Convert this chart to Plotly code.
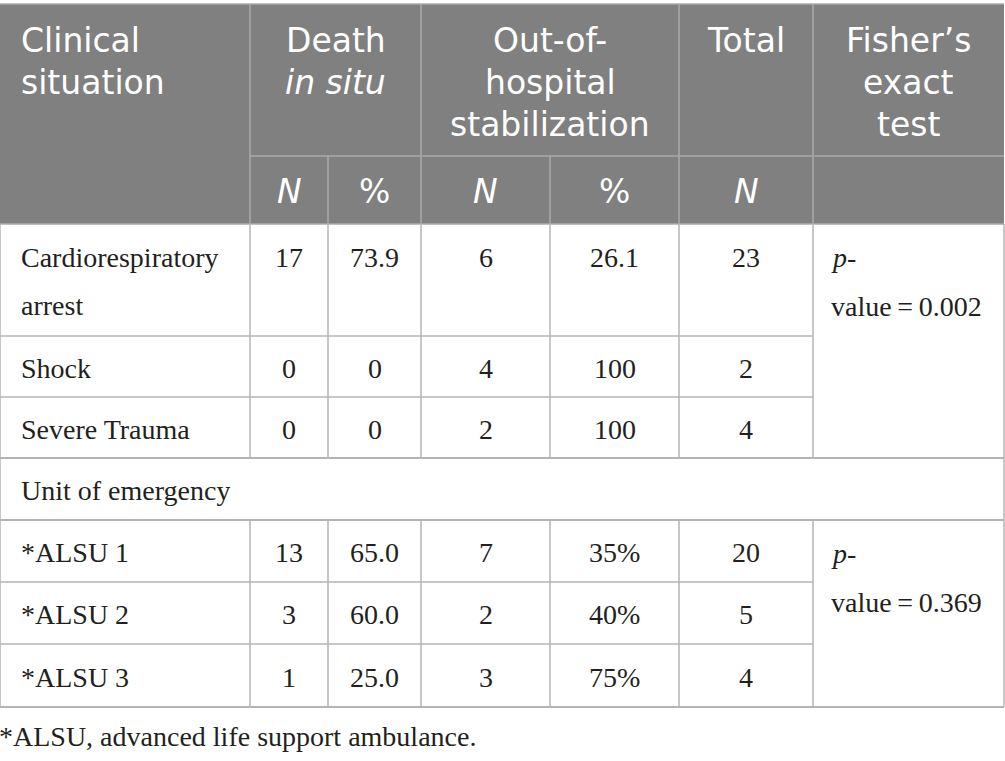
import plotly.graph_objects as go

# ---------------- data ----------------
situations = ["Cardiorespiratory arrest", "Shock", "Severe Trauma"]
units = ["*ALSU 1", "*ALSU 2", "*ALSU 3"]
section_label = "Unit of emergency"

death_n = ["17", "0", "0", "13", "3", "1"]
death_pct = ["73.9", "0", "0", "65.0", "60.0", "25.0"]
stab_n = ["6", "4", "2", "7", "2", "3"]
stab_pct = ["26.1", "100", "100", "35%", "40%", "75%"]
total_n = ["23", "2", "4", "20", "5", "4"]
p_values = ["0.002", "0.369"]

header_groups = [["Clinical", "situation"], ["Death", "<i>in situ</i>"],
                 ["Out-of-", "hospital", "stabilization"], ["Total"],
                 ["Fisher’s", "exact", "test"]]
sub_headers = ["<i>N</i>", "%", "<i>N</i>", "%", "<i>N</i>"]
footnote = "*ALSU, advanced life support ambulance."

# ---------------- layout ----------------
W, H = 1005, 761
col_edges = [0, 250, 328, 421, 550, 679, 813, 1004]
head_top, head_mid, head_bot = 4, 156, 224
row_edges = [224, 336, 397, 458, 520, 582, 644, 707]

HEAD_BG = "#7f807f"
HEAD_LINE = "#a9aaa9"
BODY_LINE = "#b4b4b4"
HFONT = "DejaVu Sans"
BFONT = "Liberation Serif"
HS = 33
BS = 28
PAD = 19

shapes = []
annos = []


def line(x0, y0, x1, y1, color, w=1.5):
    shapes.append(dict(type="line", x0=x0, y0=y0, x1=x1, y1=y1, xref="x", yref="y",
                       line=dict(color=color, width=w), layer="above"))


def text(x, y, s, font, size, color="#231f20", anchor="center", h=None, xshift=0):
    a = dict(x=x, y=y, xref="x", yref="y", text=s, showarrow=False,
             xanchor=anchor, yanchor="middle", valign="middle", xshift=xshift,
             font=dict(family=font, size=size, color=color))
    if h is not None:
        a["height"] = h
    annos.append(a)


# header background
shapes.append(dict(type="rect", x0=col_edges[0], x1=col_edges[-1], y0=head_top, y1=head_bot,
                   xref="x", yref="y", fillcolor=HEAD_BG, line=dict(width=0), layer="below"))

# header lines
line(col_edges[0], head_top, col_edges[-1], head_top, HEAD_LINE)
for xe in [col_edges[1], col_edges[3], col_edges[5], col_edges[6]]:
    line(xe, head_top, xe, head_bot, HEAD_LINE)
line(col_edges[1], head_mid, col_edges[-1], head_mid, HEAD_LINE)
for xe in [col_edges[2], col_edges[4]]:
    line(xe, head_mid, xe, head_bot, HEAD_LINE)
line(col_edges[0], head_bot, col_edges[-1], head_bot, HEAD_LINE)

# header texts
group_spans = [(0, 1), (1, 3), (3, 5), (5, 6), (6, 7)]
for gi, (lines_, (a, b)) in enumerate(zip(header_groups, group_spans)):
    for li, s in enumerate(lines_):
        y = head_top + 36 + 42 * li
        if gi == 0:
            text(col_edges[a] + PAD, y, s, HFONT, HS, "white", "left", h=40)
        else:
            text((col_edges[a] + col_edges[b]) / 2, y, s, HFONT, HS, "white", h=40)
for ci, s in enumerate(sub_headers):
    text((col_edges[ci + 1] + col_edges[ci + 2]) / 2, (head_mid + head_bot) / 2 + 1, s,
         HFONT, HS, "white", h=40)

# body grid
line(col_edges[0], row_edges[0], col_edges[0], row_edges[-1], BODY_LINE)
line(col_edges[-1], row_edges[0], col_edges[-1], row_edges[-1], BODY_LINE)
for ri in [0, 1, 2, 4, 5, 6]:
    for xe in col_edges[1:6]:
        line(xe, row_edges[ri], xe, row_edges[ri + 1], BODY_LINE)
line(col_edges[6], row_edges[0], col_edges[6], row_edges[3], BODY_LINE)
line(col_edges[6], row_edges[4], col_edges[6], row_edges[7], BODY_LINE)
for ri in [1, 2, 5, 6]:
    line(col_edges[0], row_edges[ri], col_edges[6], row_edges[ri], BODY_LINE)
for ri in [3, 4, 7]:
    line(col_edges[0], row_edges[ri], col_edges[-1], row_edges[ri], BODY_LINE, 2)

# body texts
labels = situations + units
data_rows = [0, 1, 2, 4, 5, 6]
for k, ri in enumerate(data_rows):
    top, bot = row_edges[ri], row_edges[ri + 1]
    if ri == 0:
        y1 = top + 33
        words = labels[k].split(" ")
        text(col_edges[0] + PAD, y1, words[0], BFONT, BS, anchor="left", h=40)
        text(col_edges[0] + PAD, y1 + 48, words[1], BFONT, BS, anchor="left", h=40)
    else:
        y1 = (top + bot) / 2 + 1
        text(col_edges[0] + PAD, y1, labels[k], BFONT, BS, anchor="left", h=40)
    vals = [death_n[k], death_pct[k], stab_n[k], stab_pct[k], total_n[k]]
    for ci, v in enumerate(vals):
        text((col_edges[ci + 1] + col_edges[ci + 2]) / 2, y1, v, BFONT, BS, h=40)

# section row
text(col_edges[0] + PAD, (row_edges[3] + row_edges[4]) / 2 + 1, section_label, BFONT, BS,
     anchor="left", h=40)

# p-value cells
for pi, top in enumerate([row_edges[0], row_edges[4]]):
    text(col_edges[6] + PAD - 3, top + 33, "<i>p</i>-", BFONT, BS, anchor="left", h=40)
    text(col_edges[6] + PAD - 3, top + 82, "value\u2009=\u2009" + p_values[pi], BFONT, BS,
         anchor="left", h=40)

# footnote
text(col_edges[0], row_edges[-1] + 29, footnote, BFONT, BS, anchor="left", h=40, xshift=-3)

fig = go.Figure()
fig.update_layout(
    width=W, height=H, margin=dict(l=0, r=0, t=0, b=0),
    paper_bgcolor="white", plot_bgcolor="white",
    xaxis=dict(range=[0, W], visible=False, fixedrange=True),
    yaxis=dict(range=[H, 0], visible=False, fixedrange=True),
    shapes=shapes, annotations=annos, showlegend=False,
)
fig.write_html("out.html", config={"displayModeBar": False},
               post_script="document.body.style.margin='0px';document.body.style.overflow='hidden';")
